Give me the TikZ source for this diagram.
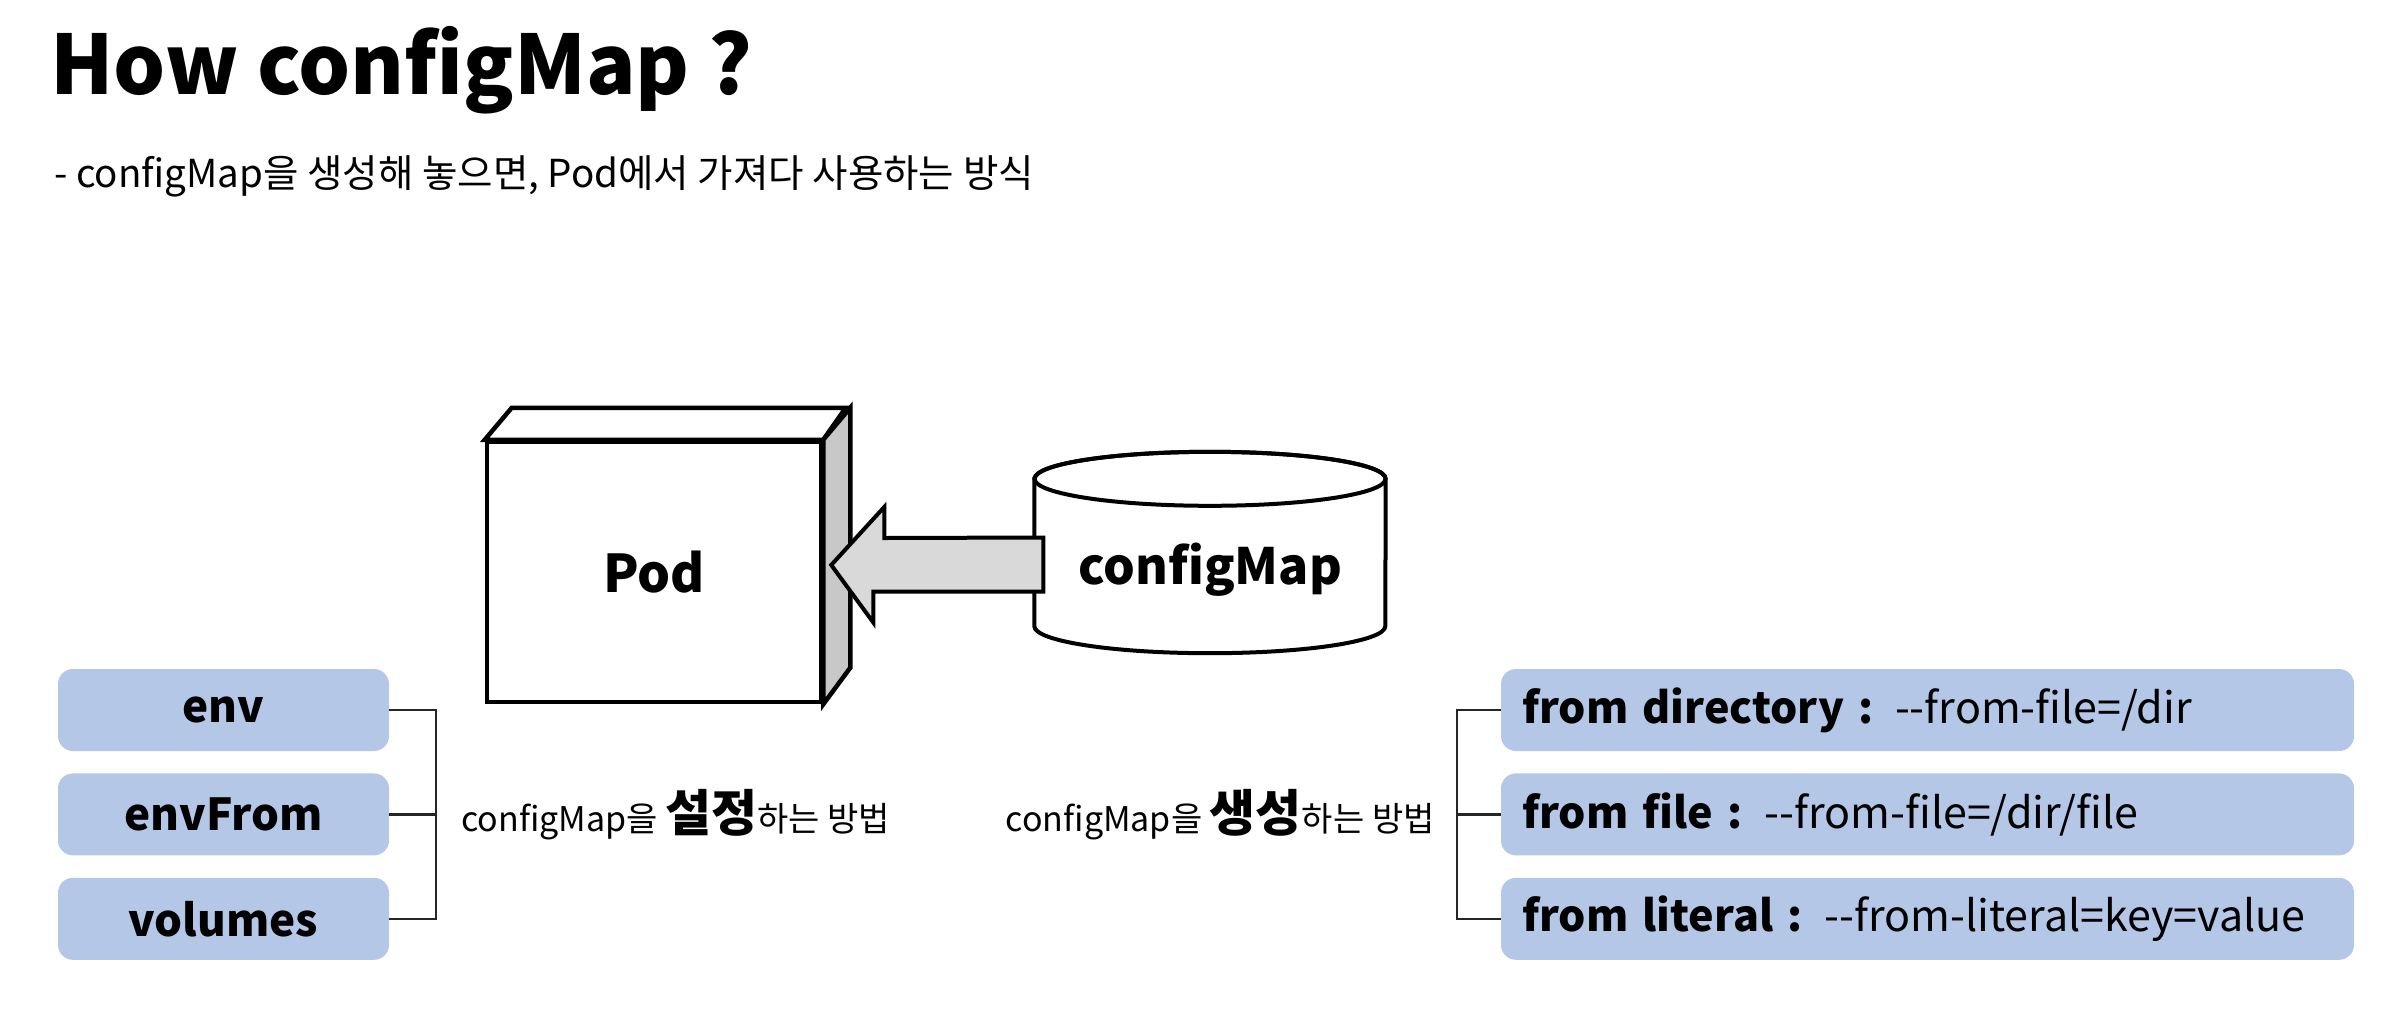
\documentclass[tikz,border=0pt]{standalone}
\usepackage{fontspec}
\setmainfont{Noto Sans CJK KR}
\usetikzlibrary{positioning, calc}

\definecolor{boxblue}{HTML}{B4C7E7}
\definecolor{arrowgray}{HTML}{D9D9D9}
\definecolor{sidegray}{HTML}{C8C8C8}
\newcommand{\twodash}{-\kern0pt-}

\begin{document}
\begin{tikzpicture}[
  x=1pt, y=-1pt,
  node distance=22pt and 22pt,
  heading/.style={inner sep=0pt, anchor=base west, font=\fontsize{82}{96}\selectfont\bfseries},
  subhead/.style={inner sep=0pt, anchor=base west, font=\fontsize{38.5}{44}\selectfont},
  podbox/.style={rectangle, draw=black, line width=4.5pt, fill=white,
                 minimum width=334pt, minimum height=260pt,
                 font=\fontsize{52}{60}\selectfont\bfseries},
  tank/.style={rectangle, inner sep=0pt, minimum width=351pt, minimum height=147pt},
  tanktext/.style={inner sep=0pt, font=\fontsize{50}{60}\selectfont\bfseries},
  optbox/.style={rectangle, rounded corners=15pt, fill=boxblue,
                 minimum width=331pt, minimum height=82pt,
                 font=\fontsize{44}{50}\selectfont\bfseries},
  srcbox/.style={rectangle, rounded corners=15pt, fill=boxblue,
                 text width=811pt, inner xsep=21pt, align=left, minimum height=82pt,
                 font=\fontsize{43}{50}\selectfont},
  outline/.style={line width=4pt, line join=miter},
  bracket/.style={line width=2.5pt, draw=black!85},
  handnote/.style={inner sep=0pt, font=\fontsize{34}{40}\selectfont},
]
\useasboundingbox (0,0) rectangle (2384,1018);

% --- Title ---
\node[heading] (title) at (50,94) {How configMap ?};
\node[subhead] (subtitle) at (54,187) {- configMap을 생성해 놓으면, Pod에서 가져다 사용하는 방식};

% --- Pod (3D box) ---
\node[podbox] (pod) at (654,572) {Pod};
\draw[outline, line width=4.5pt, fill=white] (pod.north west) -- ++(27,-32) -- ++(334,0)
      -- (pod.north east) -- cycle;
\draw[outline, line width=4.5pt, fill=sidegray] (pod.north east) -- ++(27,-32) -- ++(0,260)
      -- (pod.south east) -- cycle;

% --- configMap (cylinder) ---
\node[tank] (cfg) at (1210,552.5) {};
\draw[outline, fill=white] (cfg.north west) -- (cfg.south west)
      arc[start angle=180, end angle=360, x radius=175.5pt, y radius=27pt]
      -- (cfg.north east)
      arc[start angle=0, end angle=180, x radius=175.5pt, y radius=27pt] -- cycle;
\draw[outline] (cfg.north) ellipse[x radius=175.5pt, y radius=27pt];
\node[tanktext] (cfgtext) at ($(cfg.center)+(0,17)$) {configMap};

% --- block arrow configMap -> Pod ---
\coordinate (tip) at ($(pod.east)+(8,-7)$);
\draw[outline, fill=arrowgray] (tip) -- ++(53,-58) -- ++(0,31) -- ($(cfg.west)+(9,-15)$)
      -- ++(0,54) -- ++(-170,0) -- ++(0,31) -- cycle;

% --- how to use ---
\node[optbox] (env) at (223.5,710) {env};
\node[optbox, below=of env] (envfrom) {envFrom};
\node[optbox, below=of envfrom] (volumes) {volumes};

\draw[bracket] (env.east) -- ++(47,0) |- (volumes.east);
\draw[bracket] (envfrom.east) -- ++(47,0) coordinate (leftjoin);
\node[handnote, right=25pt of leftjoin] (setnote)
      {configMap을 {\bfseries\fontsize{50}{56}\selectfont 설정}하는 방법};

% --- how to create ---
\node[srcbox] (fromdir) at (1927.5,710) {\textbf{from directory :} \twodash from-file=/dir};
\node[srcbox, below=of fromdir] (fromfile) {\textbf{from file :} \twodash from-file=/dir/file};
\node[srcbox, below=of fromfile] (fromlit) {\textbf{from literal :} \twodash from-literal=key=value};

\draw[bracket] (fromdir.west) -- ++(-44,0) |- (fromlit.west);
\draw[bracket] (fromfile.west) -- ++(-44,0) coordinate (rightjoin);
\node[handnote, left=22pt of rightjoin] (makenote)
      {configMap을 {\bfseries\fontsize{50}{56}\selectfont 생성}하는 방법};

\end{tikzpicture}
\end{document}
